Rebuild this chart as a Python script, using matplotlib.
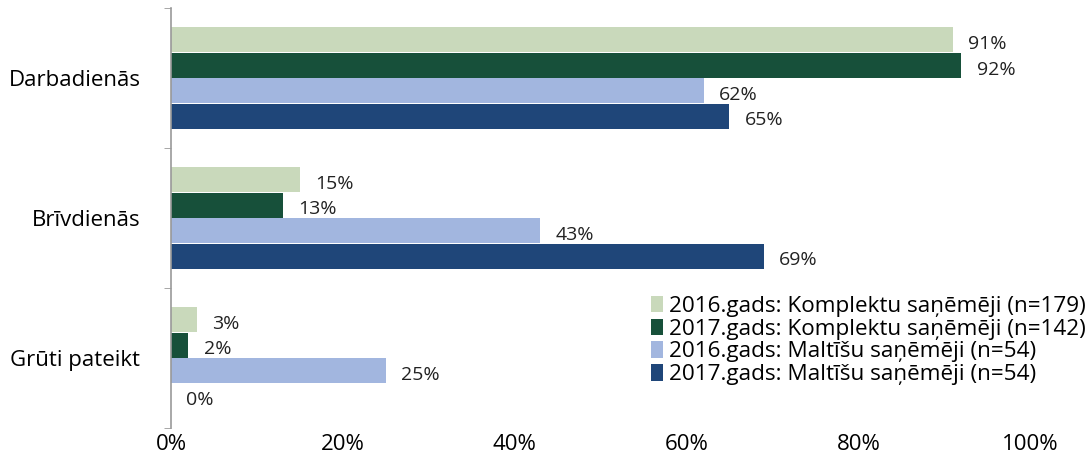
import numpy as np
import matplotlib.pyplot as plt

plt.rcParams['font.family'] = ['Open Sans', 'DejaVu Sans']

categories = ["Darbadienās", "Brīvdienās", "Grūti pateikt"]
series_names = [
    "2016.gads: Komplektu saņēmēji (n=179)",
    "2017.gads: Komplektu saņēmēji (n=142)",
    "2016.gads: Maltīšu saņēmēji (n=54)",
    "2017.gads: Maltīšu saņēmēji (n=54)",
]
komplekti_2016 = [91, 15, 3]
komplekti_2017 = [92, 13, 2]
maltites_2016 = [62, 43, 25]
maltites_2017 = [65, 69, 0]
x_ticks = [0, 20, 40, 60, 80, 100]

colors = ["#c9d9bb", "#17503a", "#a2b6df", "#1f4679"]
series = [komplekti_2016, komplekti_2017, maltites_2016, maltites_2017]

fig = plt.figure(figsize=(10.89, 4.75), dpi=100)
ax = fig.add_axes([0.157, 0.099, 0.789, 0.884])

y = np.arange(len(categories))
step = 0.182
height = 0.178
offsets = (np.arange(4) - 1.5) * step

for vals, name, col, off in zip(series, series_names, colors, offsets):
    bars = ax.barh(y + off, vals, height=height, color=col, label=name)
    for b, v in zip(bars, vals):
        ax.text(b.get_width() + 1.8, b.get_y() + b.get_height() / 2 + 0.03,
                f"{v}%", va="center", ha="left", fontsize=14, color="#222222")

ax.set_xlim(0, 100)
ax.set_ylim(2.5, -0.5)
ax.set_xticks(x_ticks)
ax.set_xticklabels([f"{t}%" for t in x_ticks], fontsize=16)
ax.set_yticks(y)
ax.set_yticklabels(categories, fontsize=16)
ax.set_yticks([-0.5, 0.5, 1.5, 2.5], minor=True)
ax.tick_params(axis="y", which="major", length=0, pad=22)
ax.tick_params(axis="y", which="minor", length=5, color="#999999", direction="out")
ax.tick_params(axis="x", length=0, pad=4)

for s in ["top", "right", "bottom"]:
    ax.spines[s].set_visible(False)
ax.spines["left"].set_color("#999999")
ax.spines["left"].set_linewidth(1.2)

ax.legend(loc="lower right", bbox_to_anchor=(1.075, 0.08), frameon=False,
          fontsize=16.2, handlelength=0.55, handleheight=0.75, handletextpad=0.25,
          labelspacing=0.08, borderaxespad=0)

fig.savefig("out.png", dpi=100)
